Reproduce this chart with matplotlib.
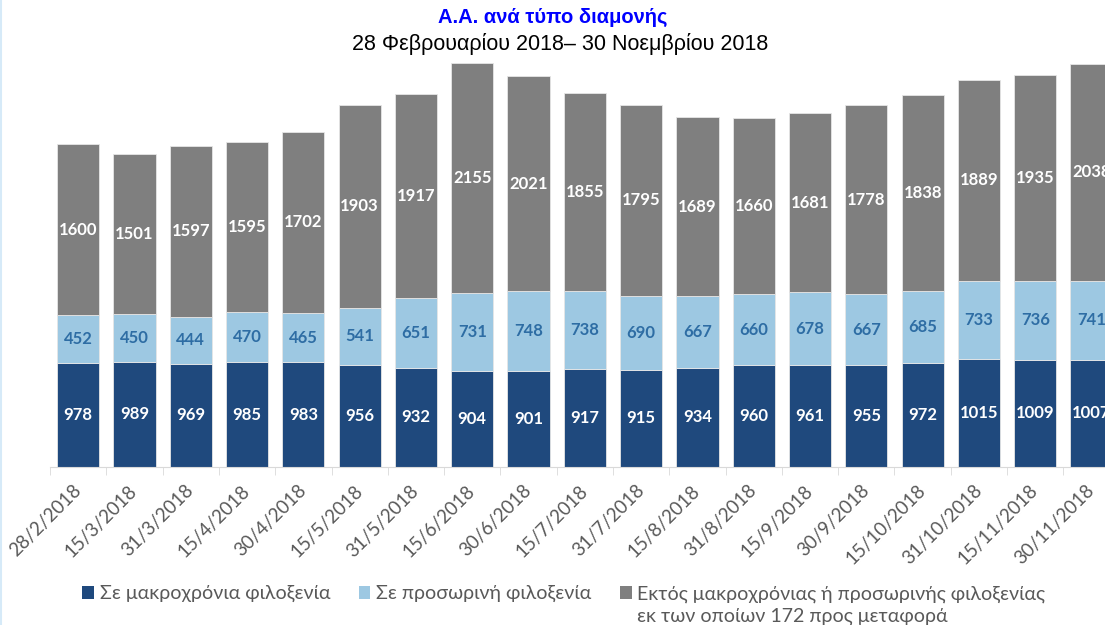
import matplotlib.pyplot as plt
from matplotlib.patches import Patch
from matplotlib.lines import Line2D
import numpy as np

dates = ['28/2/2018', '15/3/2018', '31/3/2018', '15/4/2018', '30/4/2018', '15/5/2018',
         '31/5/2018', '15/6/2018', '30/6/2018', '15/7/2018', '31/7/2018', '15/8/2018',
         '31/8/2018', '15/9/2018', '30/9/2018', '15/10/2018', '31/10/2018', '15/11/2018',
         '30/11/2018']
long_term = [978, 989, 969, 985, 983, 956, 932, 904, 901, 917, 915, 934, 960, 961, 955,
             972, 1015, 1009, 1007]
temporary = [452, 450, 444, 470, 465, 541, 651, 731, 748, 738, 690, 667, 660, 678, 667,
             685, 733, 736, 741]
outside = [1600, 1501, 1597, 1595, 1702, 1903, 1917, 2155, 2021, 1855, 1795, 1689, 1660,
           1681, 1778, 1838, 1889, 1935, 2038]

series_names = ['Σε μακροχρόνια φιλοξενία', 'Σε προσωρινή φιλοξενία',
                'Εκτός μακροχρόνιας ή προσωρινής φιλοξενίας']
legend_extra = 'εκ των οποίων 172 προς μεταφορά'
colors = ['#1F497D', '#9DC8E2', '#7F7F7F']
label_colors = ['white', '#2E6DA4', 'white']

body_font = ['Lato', 'Open Sans', 'DejaVu Sans']

W, H = 1105, 625
fig = plt.figure(figsize=(W / 100, H / 100), dpi=100)
# one category = 56.3 px, first boundary at x = 50 px; the last bar runs off the figure
ax = fig.add_axes([50 / W, 158 / H, 19 * 56.3 / W, 426 / H])

x = np.arange(len(dates))
bottom = np.zeros(len(dates))
for vals, col, lcol in zip([long_term, temporary, outside], colors, label_colors):
    bars = ax.bar(x, vals, 0.75, bottom=bottom, color=col, edgecolor='#E6E6E6',
                  linewidth=0.6)
    ax.bar_label(bars, label_type='center', color=lcol, fontsize=12,
                 fontweight='bold', family=body_font)
    bottom += np.array(vals)

ax.set_ylim(0, 4000)
ax.set_xlim(-0.5, 18.5)
for s in ['top', 'right', 'left']:
    ax.spines[s].set_visible(False)
ax.spines['bottom'].set_color('#D9D9D9')
ax.set_yticks([])
ax.set_xticks(x)
ax.set_xticks(np.arange(len(dates) + 1) - 0.5, minor=True)
ax.tick_params(axis='x', which='major', length=0, pad=15)
ax.tick_params(axis='x', which='minor', length=6, color='#D9D9D9')
ax.set_xticklabels(dates, rotation=45, ha='right', va='center', rotation_mode='anchor',
                   fontsize=13.5, color='#595959', family=body_font)

fig.text(0.5, 0.972, 'Α.Α. ανά τύπο διαμονής', ha='center', va='center',
         fontsize=14.5, fontweight='bold', color='#0000FF', family='Liberation Sans')
fig.text(0.507, 0.930, '28 Φεβρουαρίου 2018– 30 Νοεμβρίου 2018', ha='center',
         va='center', fontsize=15.5, color='black', family='Liberation Sans')

handles = [Patch(facecolor=c) for c in colors]
leg = fig.legend(handles, series_names, loc='center left',
                 bbox_to_anchor=(82 / W, (H - 594) / H), ncol=3, frameon=False,
                 handlelength=0.6, handleheight=0.6, handletextpad=0.3,
                 columnspacing=1.45, borderpad=0, borderaxespad=0,
                 prop={'family': body_font, 'size': 14.1})
for t in leg.get_texts():
    t.set_color('#595959')

fig.canvas.draw()
bb = leg.get_texts()[2].get_window_extent()
fig.text(bb.x0 / W, (H - 616) / H, legend_extra, ha='left', va='center',
         color='#595959', fontsize=14.1, family=body_font)

fig.add_artist(Line2D([0.001, 0.001], [0, 1], color='#D6EAF8', lw=1.5))

fig.savefig('out.png', dpi=100)
